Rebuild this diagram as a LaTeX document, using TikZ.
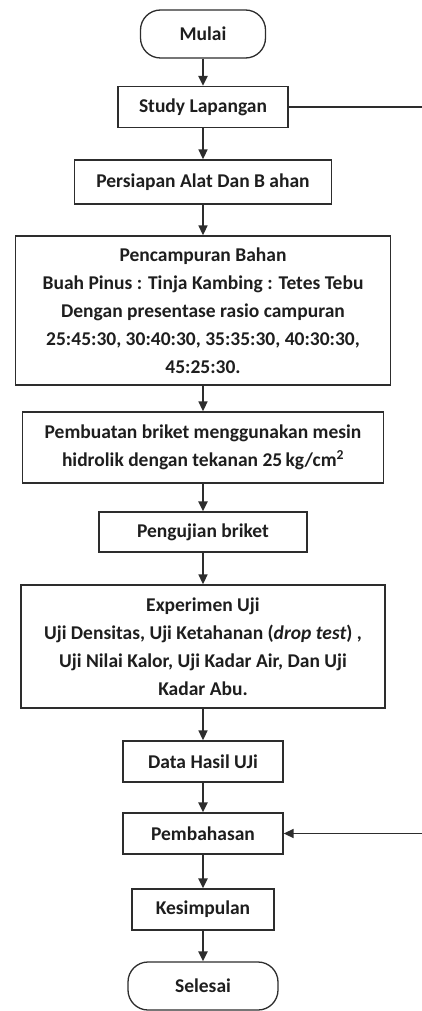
\documentclass[tikz,border=0pt]{standalone}
\usepackage{fontspec}
\setmainfont{Carlito}
\usepackage{tikz}
\usetikzlibrary{arrows.meta, positioning, shapes.misc}
\definecolor{FlowLine}{RGB}{45,45,45}
\definecolor{FlowText}{RGB}{30,30,30}
\tikzset{
  terminal/.style={
    rectangle, rounded corners=20pt,
    minimum width=125pt, minimum height=48pt, inner sep=0pt,
    draw=FlowLine, line width=1.3pt, fill=white,
    font=\fontsize{19.5}{28}\selectfont\bfseries, text=FlowText
  },
  process/.style={
    rectangle,
    minimum height=41pt, inner sep=0pt, align=center,
    draw=FlowLine, line width=1.3pt, fill=white,
    font=\fontsize{19.5}{28}\selectfont\bfseries, text=FlowText
  },
  arr/.style={-{Triangle[width=9pt,length=10pt]}, draw=FlowLine, line width=1.6pt},
  tarr/.style={-{Triangle[width=9pt,length=10pt]}, draw=FlowLine, line width=2.6pt},
  link/.style={draw=FlowLine, line width=1.6pt}
}

\begin{document}
\begin{tikzpicture}[x=1pt, y=-1pt]

  \useasboundingbox (0,0) rectangle (422,1011);

  % ── Start ──
  \node[terminal] (mulai) at (203, 34) {Mulai};

  % ── Preparation ──
  \node[process, minimum width=170pt] (study) at (203,107) {Study Lapangan};
  \node[process, minimum width=257pt, minimum height=44pt]
        (siap) at (203,182) {Persiapan Alat Dan B ahan};
  \node[process, minimum width=375pt, minimum height=149pt]
        (campur) at (203,310.5) {Pencampuran Bahan\\
          Buah Pinus : Tinja Kambing : Tetes Tebu\\
          Dengan presentase rasio campuran\\
          25:45:30, 30:40:30, 35:35:30, 40:30:30,\\
          45:25:30.};
  \node[process, minimum width=361pt, minimum height=71pt]
        (buat) at (203,447.5) {Pembuatan briket menggunakan mesin\\
          hidrolik dengan tekanan 25\,kg/cm\textsuperscript{2}};

  % ── Testing ──
  \node[process, minimum width=208pt, minimum height=40pt]
        (uji) at (203,532) {Pengujian briket};
  \node[process, minimum width=364pt, minimum height=123pt]
        (eksp) at (203,646.5) {Experimen Uji\\
          Uji Densitas, Uji Ketahanan (\textit{drop test}) ,\\
          Uji Nilai Kalor, Uji Kadar Air, Dan Uji\\
          Kadar Abu.};

  % ── Results ──
  \node[process, minimum width=160pt] (data)   at (203,761.5) {Data Hasil UJi};
  \node[process, minimum width=160pt] (bahas)  at (203,833.5) {Pembahasan};
  \node[process, minimum width=142pt] (simpul) at (203,909.5) {Kesimpulan};
  \node[terminal, minimum width=150pt] (selesai) at (203,986) {Selesai};

  % ── Side loop ends ──
  \coordinate (rtop) at (422,107);
  \coordinate (rbot) at (422,833.5);

  % ── Arrows ──
  \draw[tarr] (mulai) -- (study);
  \draw[arr]  (study) -- (siap);   \draw[arr] (siap) -- (campur);
  \draw[arr]  (campur) -- (buat);  \draw[tarr] (buat) -- (uji);
  \draw[arr]  (uji) -- (eksp);     \draw[arr] (eksp) -- (data);
  \draw[tarr] (data) -- (bahas);   \draw[tarr] (bahas) -- (simpul);
  \draw[tarr] (simpul) -- (selesai);
  \draw[link] (study) -- (rtop);
  \draw[arr]  (rbot) -- (bahas);
\end{tikzpicture}
\end{document}
